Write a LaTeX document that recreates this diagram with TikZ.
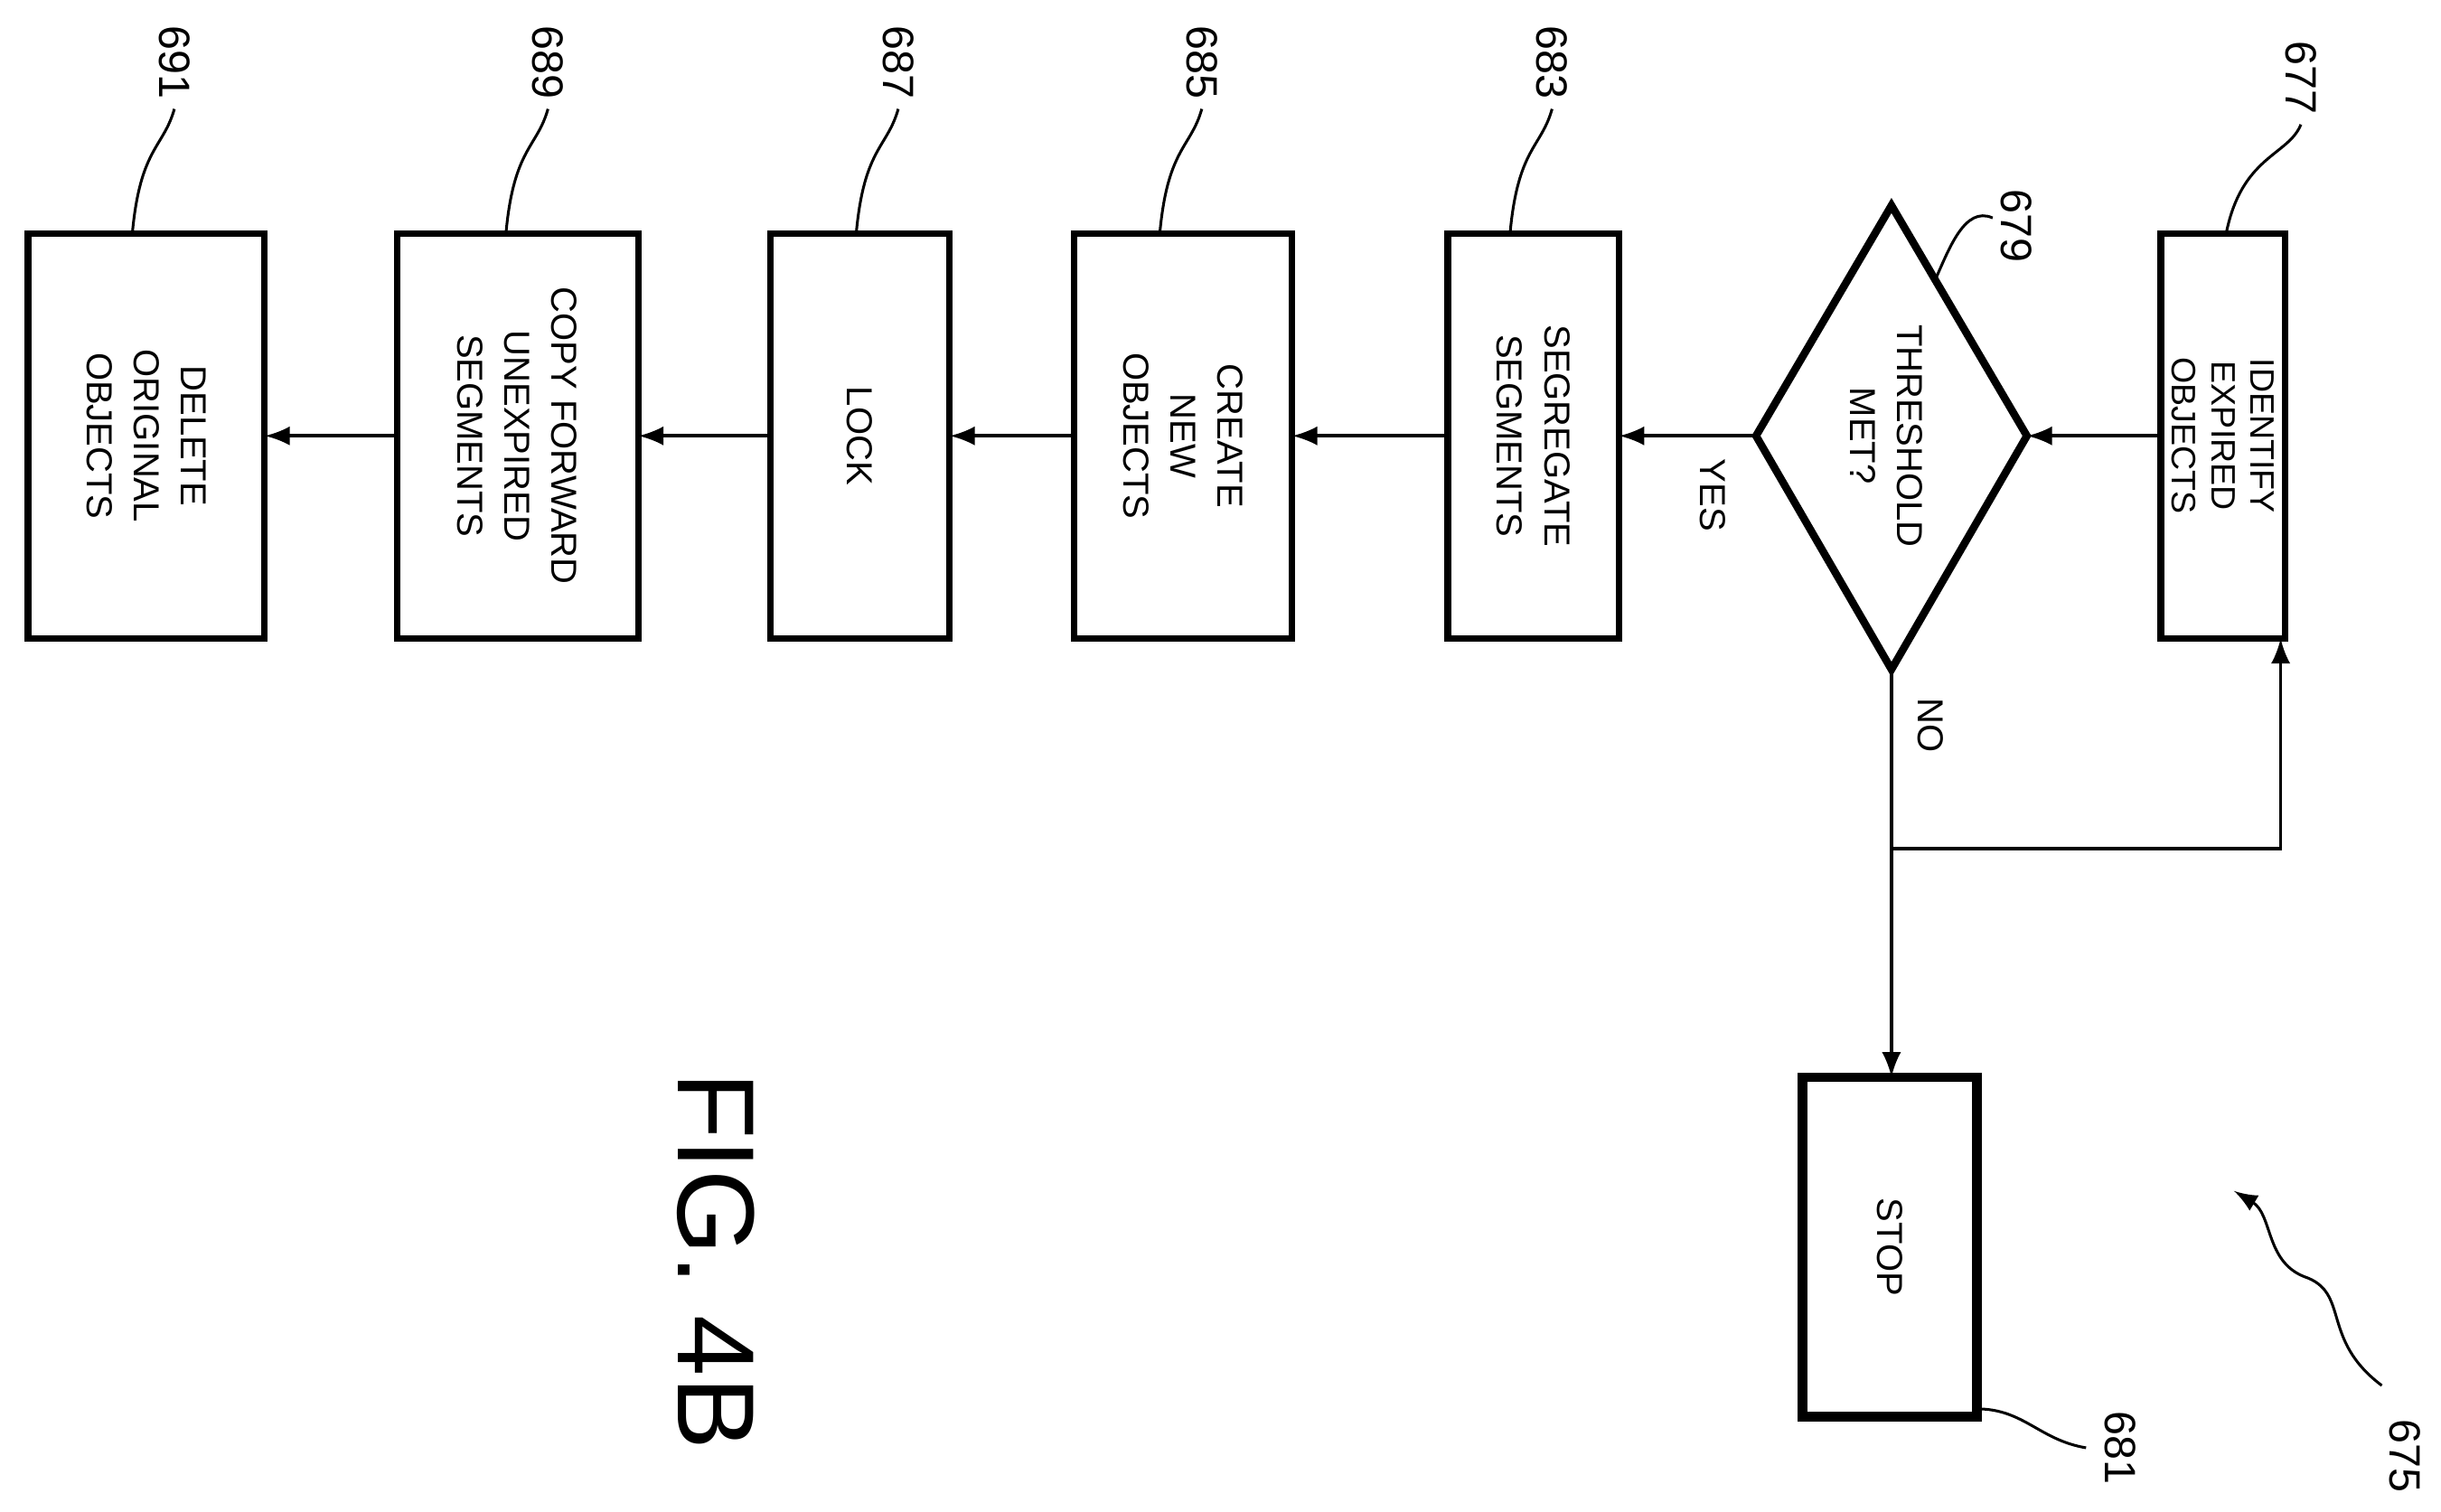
\documentclass[tikz,border=0pt]{standalone}
\usepackage{fontspec}
\setmainfont{Liberation Sans}
\begin{document}
\begin{tikzpicture}[x=0.01cm,y=-0.01cm,
 box/.style={draw,line width=1.2pt},
 txt/.style={rotate=-90,align=center,font=\fontsize{6.6}{8.6}\selectfont},
 num/.style={rotate=-90,font=\fontsize{8}{9}\selectfont},
 arr/.style={-latex,line width=0.6pt},
 lead/.style={line width=0.5pt}]
\useasboundingbox (0,0) rectangle (1568,971);
% boxes
\draw[box] (1388,150) rectangle (1468,410); \coordinate (b677w) at (1388,280); \coordinate (b677s) at (1465,410);
\node[txt,font=\fontsize{6.2}{7.2}\selectfont] (t677) at (1428,280) {IDENTIFY\\EXPIRED\\OBJECTS};
\coordinate (dN) at (1215,132); \coordinate (dS) at (1215,430); \coordinate (dW) at (1128,280); \coordinate (dE) at (1302,280);
\draw[line width=1.4pt] (dN)--(dE)--(dS)--(dW)--cycle;
\node[txt] (t679) at (1212,280) {THRESHOLD\\MET?};
\draw[box] (930,150) rectangle (1040,410);
\node[txt] (t683) at (985,280) {SEGREGATE\\SEGMENTS};
\draw[box] (690,150) rectangle (830,410);
\node[txt] (t685) at (760,280) {CREATE\\NEW\\OBJECTS};
\draw[box] (495,150) rectangle (610,410);
\node[txt] (t687) at (552,280) {LOCK};
\draw[box] (255,150) rectangle (410,410);
\node[txt] (t689) at (332,280) {COPY FORWARD\\UNEXPIRED\\SEGMENTS};
\draw[box] (18,150) rectangle (170,410);
\node[txt] (t691) at (94,280) {DELETE\\ORIGINAL\\OBJECTS};
\draw[line width=1.8pt] (1158,692) rectangle (1270,910);
\node[txt] (t681) at (1214,801) {STOP};
% arrows
\draw[arr] (b677w) -- (dE);
\draw[arr] (dW) -- (1040,280);
\draw[arr] (930,280) -- (830,280);
\draw[arr] (690,280) -- (610,280);
\draw[arr] (495,280) -- (410,280);
\draw[arr] (255,280) -- (170,280);
\draw[arr] (dS) -- (1215,692);
\coordinate (br) at (1215,545);
\draw[arr] (br) -- (1465,545) -- (b677s);
\node[txt] (yes) at (1100,318) {YES};
\node[txt] (no) at (1240,466) {NO};
% reference numerals
\node[num] (n677) at (1478,50) {677};
\node[num] (n679) at (1295,145) {679};
\node[num] (n683) at (997,40) {683};
\node[num] (n685) at (772,40) {685};
\node[num] (n687) at (577,40) {687};
\node[num] (n689) at (352,40) {689};
\node[num] (n691) at (112,40) {691};
\node[num] (n681) at (1362,930) {681};
\node[num] (n675) at (1545,935) {675};
\draw[lead] (1478,80) .. controls (1470,100) and (1440,100) .. (1430,150);
\draw[lead] (1280,140) .. controls (1262,132) and (1252,160) .. (1243,180);
\draw[lead] (997,70) .. controls (990,95) and (975,95) .. (970,150);
\draw[lead] (772,70) .. controls (765,95) and (750,95) .. (745,150);
\draw[lead] (577,70) .. controls (570,95) and (555,95) .. (550,150);
\draw[lead] (352,70) .. controls (345,95) and (330,95) .. (325,150);
\draw[lead] (112,70) .. controls (105,95) and (90,95) .. (85,150);
\draw[lead] (1340,930) .. controls (1310,925) and (1300,905) .. (1270,905);
\draw[lead,-latex] (1530,890) .. controls (1490,860) and (1510,830) .. (1480,820) .. controls (1455,810) and (1460,780) .. (1435,765);
\node[rotate=-90,font=\fontsize{20}{22}\selectfont] (fig) at (460,810) {FIG. 4B};
\end{tikzpicture}
\end{document}
